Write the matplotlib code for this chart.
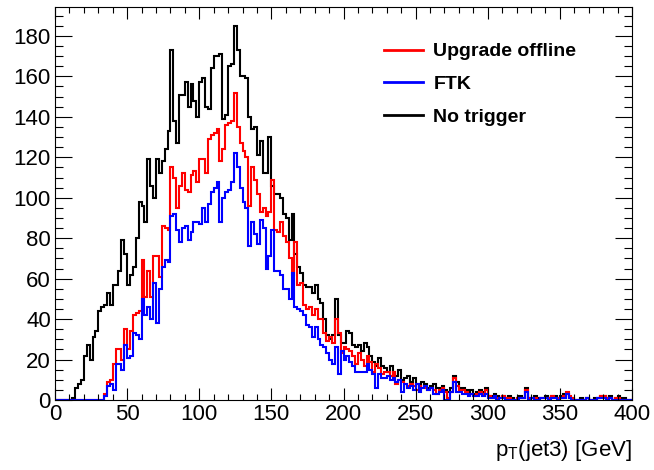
import matplotlib
matplotlib.use("Agg")
import matplotlib.pyplot as plt
from matplotlib.ticker import MultipleLocator
import numpy as np

plt.rcParams['font.family'] = ['Liberation Sans', 'DejaVu Sans']
plt.rcParams['mathtext.fontset'] = 'custom'
plt.rcParams['mathtext.rm'] = 'Liberation Sans'

# bin edges: 200 bins of 2 GeV from 0 to 400
bin_edges = list(range(0, 402, 2))

no_trigger = [
    0, 0, 0, 0, 0, 0, 1, 6, 8, 10,
    22, 27, 20, 31, 34, 44, 46, 47, 53, 47,
    57, 57, 64, 79, 72, 57, 62, 66, 80, 98,
    96, 88, 119, 106, 100, 119, 112, 118, 124, 133,
    173, 138, 127, 151, 151, 157, 145, 156, 148, 140,
    157, 159, 145, 144, 164, 170, 170, 171, 139, 141,
    165, 166, 185, 173, 160, 160, 159, 140, 134, 135,
    121, 128, 112, 112, 130, 106, 102, 102, 100, 92,
    90, 79, 92, 72, 66, 63, 57, 56, 56, 53,
    57, 50, 48, 40, 32, 30, 32, 50, 32, 28,
    28, 34, 33, 27, 26, 27, 24, 28, 26, 22,
    19, 17, 21, 17, 16, 14, 17, 13, 12, 15,
    10, 11, 12, 9, 11, 8, 7, 9, 8, 6,
    7, 8, 6, 6, 7, 5, 4, 6, 12, 9,
    6, 6, 5, 4, 5, 3, 4, 5, 4, 6,
    2, 2, 3, 2, 1, 2, 1, 2, 1, 0,
    1, 2, 1, 6, 1, 1, 2, 1, 1, 1,
    2, 1, 2, 2, 1, 2, 3, 3, 1, 1,
    0, 0, 1, 0, 1, 0, 0, 1, 1, 2,
    2, 1, 2, 0, 1, 2, 1, 1, 0, 0,
]

upgrade_offline = [
    0, 0, 0, 0, 0, 0, 0, 0, 0, 0,
    0, 0, 0, 0, 0, 0, 0, 3, 9, 10,
    18, 25, 25, 20, 35, 25, 34, 42, 43, 44,
    69, 51, 64, 51, 71, 71, 61, 86, 85, 84,
    115, 110, 95, 106, 112, 104, 103, 111, 113, 108,
    119, 119, 112, 129, 131, 132, 134, 118, 124, 136,
    137, 138, 152, 135, 127, 123, 120, 96, 115, 109,
    102, 93, 95, 91, 93, 109, 84, 83, 88, 81,
    78, 70, 62, 78, 57, 58, 47, 45, 46, 42,
    45, 40, 40, 33, 29, 31, 28, 40, 33, 23,
    26, 25, 24, 22, 18, 23, 20, 17, 22, 19,
    14, 18, 16, 13, 14, 14, 12, 14, 8, 10,
    9, 8, 7, 8, 7, 5, 7, 6, 6, 5,
    6, 5, 3, 5, 6, 4, 1, 4, 11, 7,
    5, 5, 4, 3, 3, 2, 3, 4, 3, 5,
    2, 1, 2, 1, 1, 2, 1, 1, 0, 0,
    1, 1, 1, 5, 1, 1, 1, 0, 1, 1,
    1, 1, 2, 1, 1, 1, 2, 4, 2, 1,
    0, 0, 0, 0, 1, 0, 0, 0, 1, 2,
    2, 1, 1, 0, 1, 1, 0, 0, 0, 0,
]

ftk = [
    0, 0, 0, 0, 0, 0, 0, 0, 0, 0,
    0, 0, 0, 0, 0, 0, 0, 2, 7, 8,
    5, 18, 18, 15, 27, 21, 22, 33, 32, 30,
    50, 42, 46, 40, 58, 38, 55, 66, 69, 68,
    91, 92, 84, 78, 85, 86, 79, 83, 88, 88,
    87, 95, 88, 97, 103, 105, 108, 88, 100, 103,
    104, 108, 122, 115, 105, 98, 95, 76, 88, 82,
    77, 89, 85, 65, 71, 84, 64, 64, 62, 55,
    55, 50, 63, 46, 45, 44, 42, 37, 36, 31,
    36, 30, 27, 26, 23, 20, 18, 26, 13, 24,
    20, 22, 19, 17, 14, 14, 14, 14, 18, 15,
    13, 6, 13, 11, 11, 12, 10, 11, 9, 10,
    4, 8, 6, 7, 5, 8, 4, 6, 7, 5,
    6, 3, 3, 4, 5, 0, 0, 4, 9, 4,
    4, 3, 3, 2, 3, 2, 2, 3, 2, 3,
    1, 1, 2, 0, 1, 1, 0, 0, 0, 0,
    0, 1, 1, 4, 0, 1, 0, 0, 1, 1,
    1, 0, 1, 1, 0, 1, 1, 3, 1, 0,
    0, 0, 0, 0, 1, 0, 0, 0, 1, 1,
    1, 0, 1, 0, 0, 0, 0, 0, 0, 0,
]

series_labels = ["Upgrade offline", "FTK", "No trigger"]

W, H = 654, 470
fig = plt.figure(figsize=(W / 100, H / 100), dpi=100)
ax = fig.add_axes([55 / W, 1 - 400 / H, (632 - 55) / W, (400 - 7) / H])

lw = 1.5
h_nt = ax.stairs(no_trigger, bin_edges, color='black', linewidth=lw, baseline=0)
h_up = ax.stairs(upgrade_offline, bin_edges, color='#ff0000', linewidth=lw, baseline=0)
h_ftk = ax.stairs(ftk, bin_edges, color='#0000ff', linewidth=lw, baseline=0)

ax.set_xlim(0, 400)
ax.set_ylim(0, 194.3)

ax.xaxis.set_major_locator(MultipleLocator(50))
ax.xaxis.set_minor_locator(MultipleLocator(10))
ax.yaxis.set_major_locator(MultipleLocator(20))
ax.yaxis.set_minor_locator(MultipleLocator(5))

ax.tick_params(axis='both', which='both', direction='in', top=True, right=True,
               width=0.8, color='black', labelsize=16)
ax.tick_params(axis='x', which='major', length=8.6, pad=3)
ax.tick_params(axis='x', which='minor', length=4.3)
ax.tick_params(axis='y', which='major', length=12.2, pad=3)
ax.tick_params(axis='y', which='minor', length=6.1)
for s in ax.spines.values():
    s.set_linewidth(0.8)

fig.text(632 / W, 1 - 456 / H, r'p$_{\mathregular{T}}$(jet3) [GeV]', ha='right',
         va='baseline', fontsize=16)

leg = ax.legend([h_up, h_ftk, h_nt], series_labels, loc='upper left',
                bbox_to_anchor=((376 - 55) / (632 - 55), (400 - 35) / (400 - 7)),
                frameon=False, prop={'weight': 'bold', 'size': 14},
                handlelength=2.0, handletextpad=0.55, labelspacing=0.78,
                borderaxespad=0, borderpad=0.4)
for line in leg.get_lines():
    line.set_linewidth(2.0)

fig.savefig('out.png', dpi=100)
